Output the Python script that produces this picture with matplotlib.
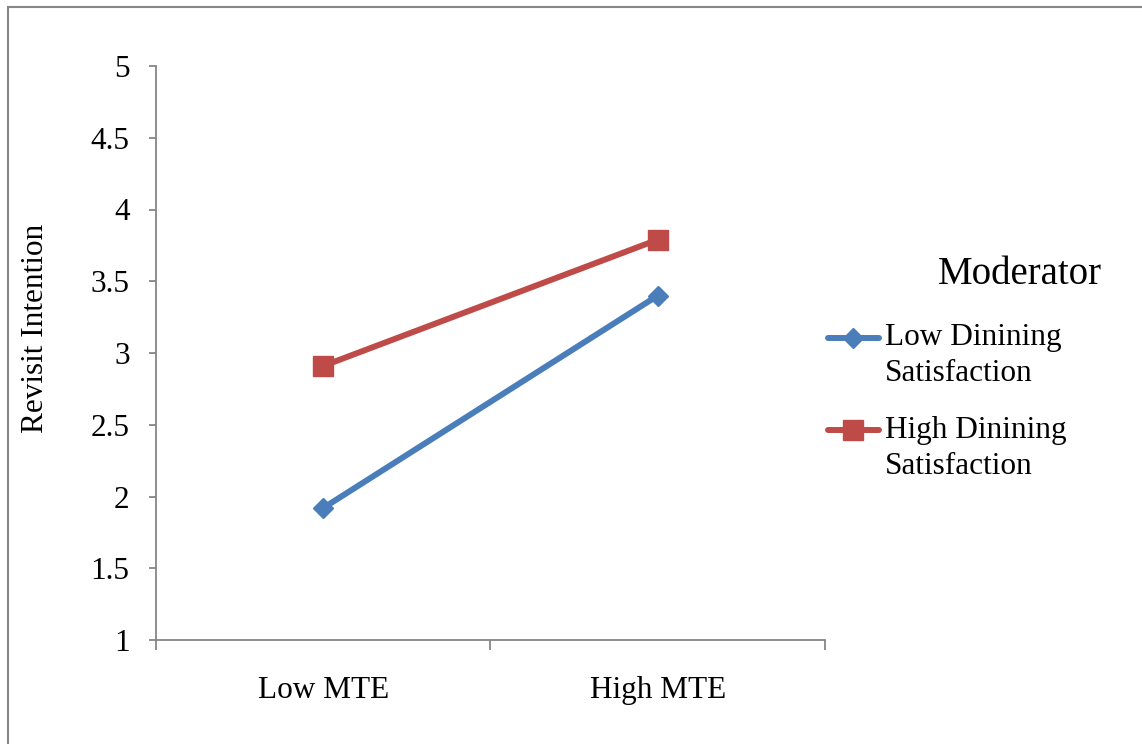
import numpy as np
import matplotlib
matplotlib.use("Agg")
import matplotlib.pyplot as plt
from matplotlib.patches import Rectangle
from matplotlib.legend_handler import HandlerLine2D

plt.rcParams['font.family'] = ['Liberation Serif', 'DejaVu Serif']

# data
categories = ['Low MTE', 'High MTE']
low_satisfaction = [1.92, 3.40]
high_satisfaction = [2.91, 3.79]
series_labels = ['Low Dinining\nSatisfaction', 'High Dinining\nSatisfaction']
y_ticks = [1, 1.5, 2, 2.5, 3, 3.5, 4, 4.5, 5]

blue = '#4a7ebb'
red = '#be4b48'
grey = '#868686'
fs = 22.5


class FirstLineHandler(HandlerLine2D):
    # put the legend line next to the first text line, as Excel does
    def create_artists(self, legend, orig_handle, xdescent, ydescent,
                       width, height, fontsize, trans):
        arts = super().create_artists(legend, orig_handle, xdescent, ydescent,
                                      width, height, fontsize, trans)
        for a in arts:
            a.set_ydata(np.asarray(a.get_ydata()) + 0.58 * fontsize)
        return arts


fig = plt.figure(figsize=(11.42, 7.44), dpi=100)
ax = fig.add_axes([156 / 1142, 1 - 640 / 744, (825 - 156) / 1142, (640 - 66) / 744])

x = np.arange(len(categories)) + 0.5
ax.plot(x, low_satisfaction, color=blue, lw=4.3, marker='D', markersize=10.5,
        label=series_labels[0], solid_capstyle='round')
ax.plot(x, high_satisfaction, color=red, lw=4.3, marker='s', markersize=15,
        label=series_labels[1], solid_capstyle='round')

ax.set_xlim(0, 2)
ax.set_ylim(1, 5)
ax.set_yticks(y_ticks)
ax.set_yticklabels([f'{t:g}' for t in y_ticks])
ax.set_xticks([0, 1, 2])
ax.set_xticklabels([])
ax.set_xticks(x, minor=True)
ax.set_xticklabels(categories, minor=True)

for s in ['top', 'right']:
    ax.spines[s].set_visible(False)
for s in ['left', 'bottom']:
    ax.spines[s].set_color(grey)
    ax.spines[s].set_linewidth(1.3)

ax.tick_params(axis='y', direction='out', length=5, width=1.3, color=grey,
               labelsize=fs, pad=14)
ax.tick_params(axis='x', which='major', direction='out', length=7, width=1.3, color=grey)
ax.tick_params(axis='x', which='minor', length=0, labelsize=fs, pad=26)

fig.text(36 / 1142, 1 - 328 / 744, 'Revisit Intention', rotation=90,
         ha='center', va='center', fontsize=fs)

fig.text(1020 / 1142, 1 - 275 / 744, 'Moderator', ha='center', va='center', fontsize=28)
leg = fig.legend(loc='upper left', bbox_to_anchor=(815 / 1142, 1 - 311 / 744),
                 frameon=False, fontsize=fs, handlelength=1.65, handletextpad=0.2,
                 labelspacing=0.9, borderaxespad=0,
                 handler_map={plt.Line2D: FirstLineHandler()})
for t in leg.get_texts():
    t.set_linespacing(1.3)

fig.patches.append(Rectangle((8 / 1142, -0.05), 1.2, 1 - 7 / 744 + 0.05,
                             transform=fig.transFigure, fill=False,
                             edgecolor=grey, lw=1.5))

fig.savefig('out.png', dpi=100)
